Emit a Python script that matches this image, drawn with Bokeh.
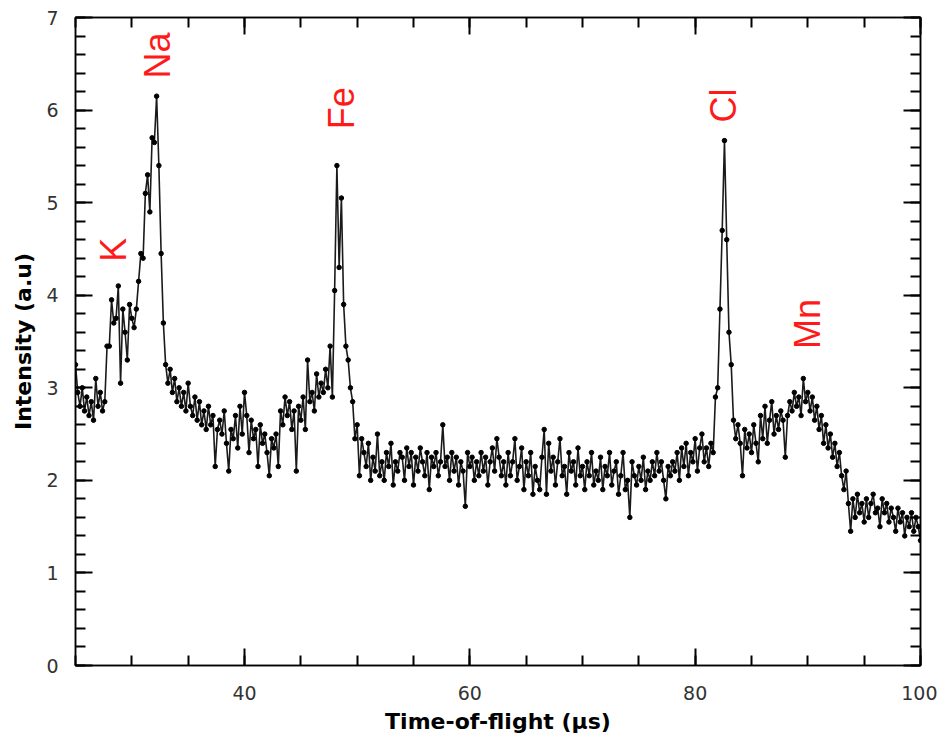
import math
from bokeh.plotting import figure
from bokeh.models import (Range1d, LinearAxis, SingleIntervalTicker,
                          ColumnDataSource, CustomLabelingPolicy)
from bokeh.core.properties import value
from bokeh.embed import file_html
from bokeh.resources import INLINE

# time-of-flight sampling (µs)
t_start = 25.0
t_step = 0.2

# intensity (a.u.), one value per sample
intensity = [
    3.25, 2.95, 2.80, 3.00, 2.75,   # 25
    2.90, 2.70, 2.85, 2.65, 3.10,   # 26
    2.80, 2.95, 2.75, 2.85, 3.45,   # 27
    3.45, 3.95, 3.70, 3.75, 4.10,   # 28
    3.05, 3.85, 3.60, 3.30, 3.90,   # 29
    3.75, 3.65, 3.85, 4.15, 4.45,   # 30
    4.40, 5.10, 5.30, 4.90, 5.70,   # 31
    5.65, 6.15, 5.40, 4.45, 3.70,   # 32
    3.25, 3.05, 3.20, 2.95, 3.10,   # 33
    2.85, 3.00, 2.80, 2.95, 2.75,   # 34
    3.05, 2.80, 2.70, 2.90, 2.65,   # 35
    2.85, 2.60, 2.75, 2.55, 2.80,   # 36
    2.60, 2.70, 2.15, 2.55, 2.65,   # 37
    2.50, 2.75, 2.40, 2.10, 2.55,   # 38
    2.45, 2.70, 2.35, 2.80, 2.50,   # 39
    2.95, 2.70, 2.30, 2.65, 2.45,   # 40
    2.55, 2.15, 2.60, 2.40, 2.50,   # 41
    2.30, 2.05, 2.45, 2.35, 2.50,   # 42
    2.15, 2.75, 2.60, 2.90, 2.70,   # 43
    2.85, 2.55, 2.75, 2.10, 2.80,   # 44
    2.65, 2.90, 2.55, 3.30, 2.85,   # 45
    2.95, 2.75, 3.15, 2.90, 3.05,   # 46
    2.95, 3.20, 3.00, 3.45, 2.90,   # 47
    4.05, 5.40, 4.30, 5.05, 3.90,   # 48
    3.45, 3.30, 3.00, 2.85, 2.45,   # 49
    2.60, 2.05, 2.45, 2.30, 2.15,   # 50
    2.40, 2.00, 2.25, 2.10, 2.50,   # 51
    2.05, 2.20, 2.00, 2.30, 2.15,   # 52
    2.40, 1.95, 2.20, 2.10, 2.30,   # 53
    2.25, 2.00, 2.35, 2.15, 2.30,   # 54
    1.95, 2.25, 2.10, 2.35, 2.20,   # 55
    2.05, 2.30, 1.90, 2.25, 2.15,   # 56
    2.30, 2.05, 2.20, 2.60, 2.15,   # 57
    2.25, 2.00, 2.30, 2.10, 2.25,   # 58
    1.95, 2.20, 2.10, 1.72, 2.30,   # 59
    2.15, 2.25, 2.00, 2.20, 2.05,   # 60
    2.30, 2.10, 2.25, 1.95, 2.20,   # 61
    2.35, 2.10, 2.45, 2.25, 2.05,   # 62
    2.20, 1.95, 2.30, 2.05, 2.20,   # 63
    2.45, 2.00, 2.15, 2.35, 1.90,   # 64
    2.20, 2.05, 2.30, 1.85, 2.15,   # 65
    2.00, 1.90, 2.25, 2.55, 1.85,   # 66
    2.40, 2.10, 2.25, 1.95, 2.20,   # 67
    2.45, 2.05, 2.15, 1.85, 2.30,   # 68
    2.10, 2.20, 1.95, 2.35, 2.05,   # 69
    2.15, 1.90, 2.20, 2.05, 2.30,   # 70
    1.95, 2.10, 2.00, 2.25, 1.90,   # 71
    2.15, 2.05, 2.30, 1.95, 2.10,   # 72
    2.20, 1.85, 2.05, 2.30, 1.90,   # 73
    2.00, 1.60, 2.20, 2.05, 1.95,   # 74
    2.15, 2.00, 2.25, 1.90, 2.10,   # 75
    2.00, 2.20, 2.05, 2.30, 2.10,   # 76
    2.20, 2.00, 1.80, 2.15, 2.05,   # 77
    2.20, 2.10, 2.30, 2.00, 2.35,   # 78
    2.15, 2.40, 2.05, 2.30, 2.20,   # 79
    2.45, 2.10, 2.35, 2.50, 2.20,   # 80
    2.35, 2.15, 2.40, 2.30, 2.90,   # 81
    3.00, 3.85, 4.70, 5.67, 4.60,   # 82
    3.60, 3.25, 2.65, 2.45, 2.60,   # 83
    2.40, 2.05, 2.55, 2.35, 2.50,   # 84
    2.30, 2.60, 2.40, 2.20, 2.70,   # 85
    2.45, 2.80, 2.40, 2.65, 2.85,   # 86
    2.50, 2.70, 2.55, 2.75, 2.65,   # 87
    2.25, 2.70, 2.85, 2.75, 2.95,   # 88
    2.80, 2.90, 2.70, 3.10, 2.85,   # 89
    2.95, 2.75, 2.90, 2.65, 2.80,   # 90
    2.55, 2.70, 2.40, 2.60, 2.35,   # 91
    2.50, 2.25, 2.40, 2.15, 2.30,   # 92
    2.05, 1.90, 2.10, 1.75, 1.45,   # 93
    1.80, 1.60, 1.85, 1.65, 1.75,   # 94
    1.55, 1.80, 1.60, 1.75, 1.85,   # 95
    1.65, 1.70, 1.50, 1.80, 1.65,   # 96
    1.75, 1.55, 1.70, 1.60, 1.45,   # 97
    1.70, 1.55, 1.65, 1.40, 1.60,   # 98
    1.50, 1.65, 1.45, 1.60, 1.50,   # 99
    1.35,                           # 100
]
tof = [round(t_start + t_step * i, 2) for i in range(len(intensity))]

# peak annotations
peak_names = ["K", "Na", "Fe", "Cl", "Mn"]
peak_x = [28.4, 32.3, 48.6, 82.5, 90.0]
peak_y = [4.49, 6.59, 6.02, 6.05, 3.69]

x_ticks_major = 20
y_ticks_major = 1

p = figure(frame_width=845, frame_height=648,
           min_border_left=75, min_border_right=17,
           min_border_top=15, min_border_bottom=64,
           x_range=Range1d(25, 100), y_range=Range1d(0, 7),
           output_backend="svg", toolbar_location=None,
           x_axis_label="Time-of-flight (µs)", y_axis_label="Intensity (a.u)")
p.background_fill_color = "white"
p.border_fill_color = "white"
p.xgrid.visible = False
p.ygrid.visible = False
p.outline_line_color = "black"
p.outline_line_width = 1.5

src = ColumnDataSource(dict(x=tof, y=intensity))
p.line("x", "y", source=src, line_color="#1a1a1a", line_width=1.6)
p.scatter("x", "y", source=src, size=4.5, fill_color="black", line_color="black")

lsrc = ColumnDataSource(dict(x=peak_x, y=peak_y, t=peak_names))
p.text("x", "y", text="t", source=lsrc, angle=math.pi / 2,
       text_align="center", text_baseline="middle",
       text_color="#ff1a1a", text_font=value("Liberation Sans"),
       text_font_size="36px")

no_labels = CustomLabelingPolicy(code="return new Set()")


def style_axis(ax):
    ax.major_tick_in = 17
    ax.major_tick_out = 0
    ax.minor_tick_in = 10
    ax.minor_tick_out = 0
    ax.axis_line_color = "black"
    ax.axis_line_width = 1.5
    ax.major_tick_line_color = "black"
    ax.major_tick_line_width = 2
    ax.minor_tick_line_color = "black"
    ax.minor_tick_line_width = 2
    ax.major_label_text_font = "DejaVu Sans"
    ax.major_label_text_font_size = "19px"
    ax.major_label_text_color = "#333333"
    ax.axis_label_text_font = "DejaVu Sans"
    ax.axis_label_text_font_size = "22px"
    ax.axis_label_text_font_style = "bold"
    ax.axis_label_text_color = "black"


p.xaxis.ticker = SingleIntervalTicker(interval=x_ticks_major, num_minor_ticks=4)
p.yaxis.ticker = SingleIntervalTicker(interval=y_ticks_major, num_minor_ticks=5)
style_axis(p.xaxis[0])
style_axis(p.yaxis[0])
p.xaxis[0].major_label_standoff = 20
p.xaxis[0].axis_label_standoff = 6
p.yaxis[0].major_label_standoff = 17
p.yaxis[0].axis_label_standoff = 7

top = LinearAxis(ticker=SingleIntervalTicker(interval=x_ticks_major, num_minor_ticks=4),
                 major_label_policy=no_labels, major_label_standoff=0)
right = LinearAxis(ticker=SingleIntervalTicker(interval=y_ticks_major, num_minor_ticks=5),
                   major_label_policy=no_labels, major_label_standoff=0)
style_axis(top)
style_axis(right)
p.add_layout(top, "above")
p.add_layout(right, "right")

open("out.html", "w").write(file_html(p, INLINE))
